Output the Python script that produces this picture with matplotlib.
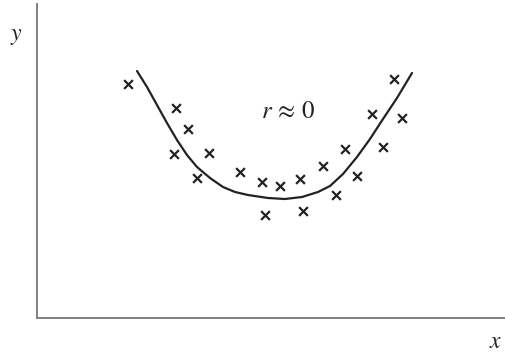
import numpy as np
import matplotlib.pyplot as plt

plt.rcParams['mathtext.fontset'] = 'stix'

# scatter points (arbitrary units)
pts_x = [128, 176, 188, 174, 209, 197, 240, 262, 280, 300,
         265, 303, 323, 345, 336, 357, 383, 372, 394, 402]
pts_y = [84, 108, 129, 154, 153, 178, 172, 182, 186, 179,
         215, 211, 166, 149, 195, 176, 147, 114, 79, 118]

# fitted curve, sampled along its length
curve_x = [137, 147, 157, 167, 177, 187, 197, 210, 223, 235, 248,
           268, 285, 302, 318, 330, 343, 357, 370, 383, 397, 412]
curve_y = [71, 87, 105, 123, 140, 155, 167, 178, 187, 192, 195,
           198, 199, 197, 192, 186, 174, 157, 139, 119, 98, 73]

W, H = 506, 353
fig = plt.figure(figsize=(W / 100, H / 100), dpi=100)
ax = fig.add_axes([37 / W, (H - 318) / H, (W - 37) / W, (318 - 4) / H])

ax.plot(curve_x, curve_y, color='#222222', lw=1.6,
        solid_capstyle='round', solid_joinstyle='round')
ax.scatter(pts_x, pts_y, marker='x', s=40, color='#222222', linewidths=1.6)

ax.set_xlim(37, W)
ax.set_ylim(318, 4)

for side in ['top', 'right']:
    ax.spines[side].set_visible(False)
for side in ['left', 'bottom']:
    ax.spines[side].set_color('#808080')
    ax.spines[side].set_linewidth(1.4)
ax.set_xticks([])
ax.set_yticks([])

ax.text(288, 111, r'$r\,\approx\,0$', fontsize=18, ha='center', va='center', color='#222222')
fig.text(16 / W, 1 - 35 / H, r'$y$', fontsize=17, ha='center', va='center', color='#222222')
fig.text(496 / W, 1 - 341 / H, r'$x$', fontsize=17, ha='center', va='center', color='#222222')

fig.savefig('out.png', dpi=100)
